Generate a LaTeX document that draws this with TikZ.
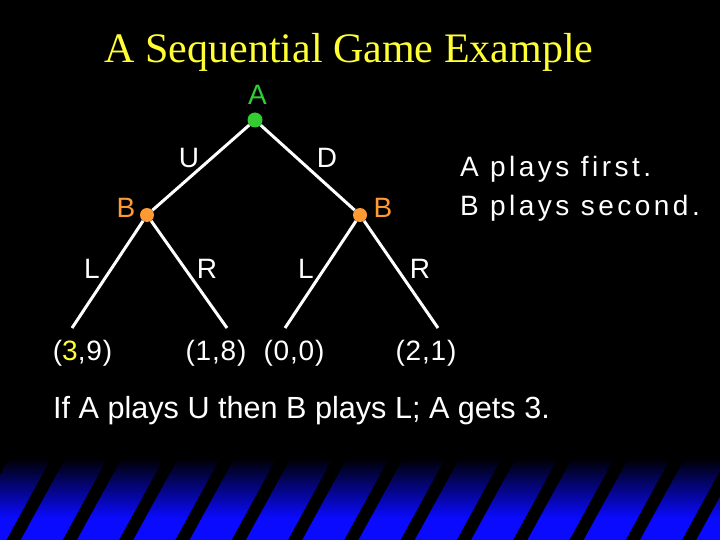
\documentclass[tikz,border=0pt]{standalone}
\usepackage{fontspec}
\setmainfont{Liberation Sans}
\newfontfamily\titlefont{Liberation Serif}
\newfontfamily\spacedfont[LetterSpace=12.5]{Liberation Sans}
\newfontfamily\payfont[LetterSpace=3]{Liberation Sans}
\definecolor{tgreen}{RGB}{51,204,51}
\definecolor{torange}{RGB}{255,153,51}
\definecolor{tyellow}{RGB}{255,255,51}
\definecolor{tblue}{RGB}{10,10,255}
\begin{document}
\begin{tikzpicture}[x=1pt,y=-1pt,
  lbl/.style={text=white,font=\fontsize{28}{32}\selectfont,inner sep=0pt,anchor=base},
  pay/.style={lbl,font=\fontsize{28}{32}\selectfont\payfont},
  note/.style={text=white,font=\fontsize{28}{32}\selectfont\spacedfont,inner sep=0pt,anchor=base west},
  dotA/.style={circle,fill=tgreen,minimum size=15pt,inner sep=0pt},
  dotB/.style={circle,fill=torange,minimum size=14pt,inner sep=0pt},
  branch/.style={draw=white,line width=3pt},
]
\fill[black] (0,0) rectangle (720,540);
\useasboundingbox (0,0) rectangle (720,540);
% bottom band
\shade[top color=black,bottom color=tblue] (0,458) rectangle (720,518);
\fill[tblue] (0,517.5) rectangle (720,540);
\foreach \k in {-1,...,13}{
  \fill[black] ({59+56.3*\k-7},457) -- ({59+56.3*\k+7},457)
     -- ({13+56.3*\k+7},541) -- ({13+56.3*\k-7},541) -- cycle;
}
% title
\node[text=tyellow,font=\fontsize{42}{48}\selectfont\titlefont,inner sep=0pt,anchor=base] (title) at (349,63) {A Sequential Game Example};
% tree nodes
\node[dotA] (A) at (255,120) {};
\node[dotB] (B1) at (147,215) {};
\node[dotB] (B2) at (360,215) {};
\node[lbl,text=tgreen] (Alab) at (257.5,105) {A};
\node[lbl,text=torange] (B1lab) at (126,218) {B};
\node[lbl,text=torange] (B2lab) at (383,218) {B};
\coordinate (e1) at (72,328);
\coordinate (e2) at (227,328);
\coordinate (e3) at (285,328);
\coordinate (e4) at (438,328);
\draw[branch] (A) -- (B1);
\draw[branch] (A) -- (B2);
\draw[branch] (B1) -- (e1);
\draw[branch] (B1) -- (e2);
\draw[branch] (B2) -- (e3);
\draw[branch] (B2) -- (e4);
% branch labels
\node[lbl] (U) at (189,168) {U};
\node[lbl] (D) at (327,168) {D};
\node[lbl] (L1) at (92,278) {L};
\node[lbl] (R1) at (207,278) {R};
\node[lbl] (L2) at (306,278) {L};
\node[lbl] (R2) at (420,278) {R};
% payoffs
\node[pay] (p1) at (82.5,360) {(\textcolor{tyellow}{3},9)};
\node[pay] (p2) at (216,360) {(1,8)};
\node[pay] (p3) at (294,360) {(0,0)};
\node[pay] (p4) at (426,360) {(2,1)};
% notes
\node[note] (n1) at (460,177) {A plays first.};
\node[note] (n2) at (460,215) {B plays second.};
\node[text=white,font=\fontsize{30.6}{34}\selectfont,inner sep=0pt,anchor=base west] (concl) at (53,418) {If A plays U then B plays L; A gets 3.};
\end{tikzpicture}
\end{document}
